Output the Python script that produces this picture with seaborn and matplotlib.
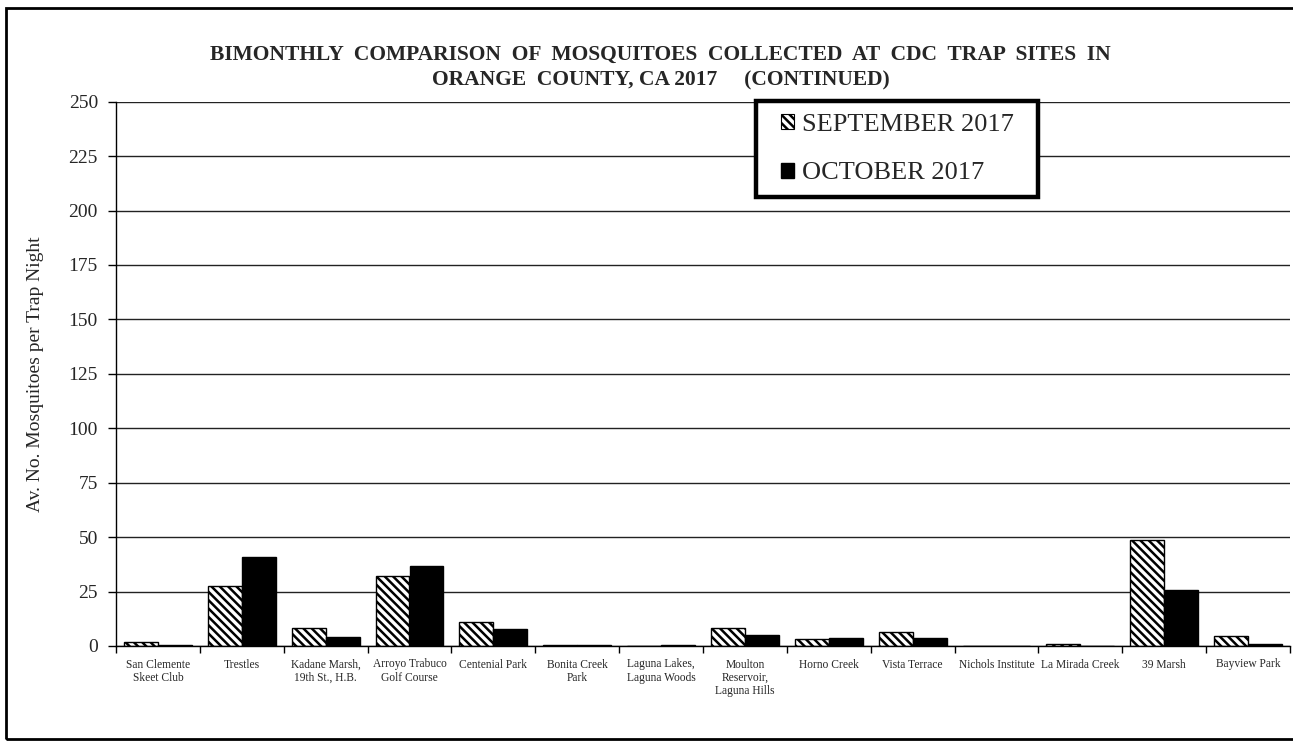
import matplotlib
matplotlib.use("Agg")
import matplotlib.pyplot as plt
from matplotlib.patches import Rectangle, Patch
import numpy as np
import pandas as pd
import seaborn as sns

# Trap sites and monthly averages (mosquitoes per trap night)
sites = [
    "San Clemente\nSkeet Club", "Trestles", "Kadane Marsh,\n19th St., H.B.",
    "Arroyo Trabuco\nGolf Course", "Centenial Park", "Bonita Creek\nPark",
    "Laguna Lakes,\nLaguna Woods", "Moulton\nReservoir,\nLaguna Hills",
    "Horno Creek", "Vista Terrace", "Nichols Institute", "La Mirada Creek",
    "39 Marsh", "Bayview Park",
]
september = [2.0, 27.7, 8.1, 32.1, 10.9, 0.5, 0.0, 8.3, 3.2, 6.3, 0.0, 0.7, 48.5, 4.6]
october = [0.4, 40.7, 4.3, 36.7, 8.0, 0.5, 0.5, 4.9, 3.7, 3.5, 0.0, 0.0, 25.7, 0.9]
months = ["SEPTEMBER 2017", "OCTOBER 2017"]
y_ticks = [0, 25, 50, 75, 100, 125, 150, 175, 200, 225, 250]

df = pd.DataFrame({
    "site": sites * 2,
    "month": [months[0]] * len(sites) + [months[1]] * len(sites),
    "value": september + october,
})

sns.set_theme(style="white")
plt.rcParams["font.family"] = ["Liberation Serif", "DejaVu Serif"]
plt.rcParams["hatch.linewidth"] = 1.8

W, H = 1293, 741
fig = plt.figure(figsize=(W / 100, H / 100), dpi=100)


def fx(px):
    return px / W


def fy(py):
    return 1 - py / H


ax = fig.add_axes([fx(116), fy(646), fx(1290 - 116), (646 - 101.7) / H])

sns.barplot(
    data=df, x="site", y="value", hue="month", order=sites, hue_order=months,
    palette=["white", "black"], edgecolor="black", linewidth=1.0,
    width=0.81, saturation=1, ax=ax, legend=False,
)
for bar in ax.containers[0]:
    bar.set_hatch("\\\\\\\\")
    bar.set_edgecolor("black")

ax.set_ylim(0, 250)
ax.set_xlim(-0.5, len(sites) - 0.5)
ax.set_yticks(y_ticks)
ax.set_yticklabels([str(t) for t in y_ticks], fontsize=14)
ax.yaxis.grid(True, color="#222222", linewidth=1.0)
ax.set_axisbelow(True)
ax.tick_params(axis="y", which="major", direction="out", length=6, width=1,
               color="black", left=True, pad=7)

ax.set_xticks(range(len(sites)))
ax.set_xticklabels(sites, fontsize=8.3, linespacing=1.15, va="top")
ax.set_xticks(np.arange(-0.5, len(sites) + 0.5, 1.0), minor=True)
ax.tick_params(axis="x", which="major", length=0, pad=9)
ax.tick_params(axis="x", which="minor", direction="out", length=5, width=1,
               color="black", bottom=True)

for side in ["top", "right"]:
    ax.spines[side].set_visible(False)
for side in ["left", "bottom"]:
    ax.spines[side].set_color("black")
    ax.spines[side].set_linewidth(1.0)

ax.set_xlabel("")
ax.set_ylabel("Av. No. Mosquitoes per Trap Night", fontsize=14, labelpad=18)

title_kw = dict(ha="center", va="center", fontsize=15.5, fontweight="bold")
fig.text(fx(660), fy(55),
         "BIMONTHLY  COMPARISON  OF  MOSQUITOES  COLLECTED  AT  CDC  TRAP  SITES  IN",
         **title_kw)
fig.text(fx(661), fy(80), "ORANGE  COUNTY, CA 2017     (CONTINUED)", **title_kw)

# legend entries, with a heavy frame drawn around them
handles = [
    Patch(facecolor="white", edgecolor="black", hatch="\\\\\\\\", linewidth=0.8),
    Patch(facecolor="black", edgecolor="black"),
]
leg = fig.legend(handles, months, loc="upper left",
                 bbox_to_anchor=(fx(781), fy(114)),
                 bbox_transform=fig.transFigure,
                 fontsize=19, frameon=False,
                 handlelength=0.5, handleheight=0.5, handletextpad=0.3,
                 borderpad=0, labelspacing=1.0, borderaxespad=0)
fig.patches.append(Rectangle((fx(756), fy(197)), fx(1038 - 756), (197 - 101) / H,
                             transform=fig.transFigure, facecolor="white",
                             edgecolor="black", linewidth=3.2, zorder=3))
leg.set_zorder(4)

# outer chart border
fig.patches.append(Rectangle((fx(6), fy(739)), 1.5, (739 - 8) / H,
                             transform=fig.transFigure, fill=False,
                             edgecolor="black", linewidth=2.0))

fig.savefig("out.png", dpi=100)
